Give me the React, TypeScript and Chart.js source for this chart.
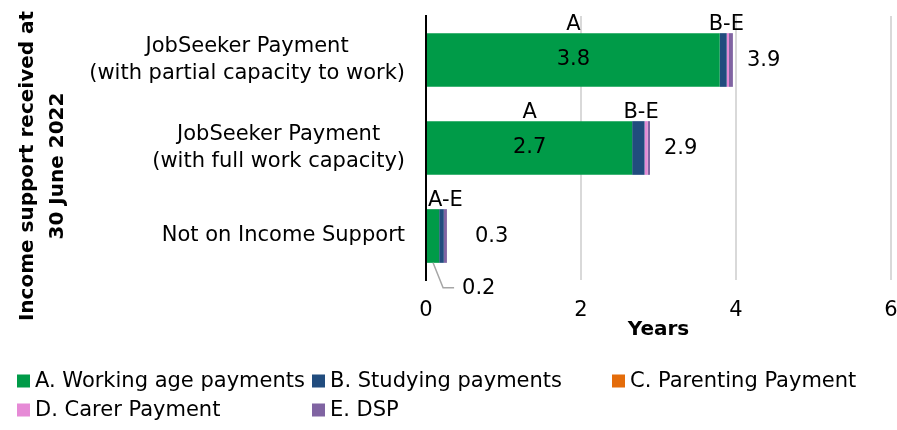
import React, { useEffect, useRef } from "react";
import { Chart, registerables } from "chart.js";

Chart.register(...registerables);

// ---------- data ----------
const categories: (string | string[])[] = [
  ["JobSeeker Payment", "(with partial capacity to work)"],
  ["JobSeeker Payment", "(with full work capacity)"],
  "Not on Income Support",
];
const seriesNames = [
  "A. Working age payments",
  "B. Studying payments",
  "C. Parenting Payment",
  "D. Carer Payment",
  "E. DSP",
];
const workingAge = [3.79, 2.66, 0.17];
const studying = [0.09, 0.16, 0.06];
const parenting = [0, 0, 0];
const carer = [0.03, 0.04, 0];
const dsp = [0.05, 0.03, 0.04];
const segmentLabels = ["3.8", "2.7", "0.2"];
const totalLabels = ["3.9", "2.9", "0.3"];
const groupLabels = [["A", "B-E"], ["A", "B-E"], ["A-E"]];
const xTicks = [0, 2, 4, 6];
const yTitle = ["Income support received at", "30 June 2022"];
const xTitle = "Years";

const seriesColors = ["#009B48", "#214C7E", "#E46C0A", "#E68AD6", "#8064A2"];
const FONT = "DejaVu Sans";

const annotations = {
  id: "annotations",
  afterDatasetsDraw(chart: any) {
    const ctx = chart.ctx as CanvasRenderingContext2D;
    const metas = chart.data.datasets.map((_: any, i: number) => chart.getDatasetMeta(i));
    const gaps = [14, 14, 28];
    ctx.save();
    ctx.fillStyle = "#000";
    ctx.font = `21px "${FONT}"`;
    categories.forEach((_, i) => {
      const a = metas[0].data[i];
      const b = metas[1].data[i];
      const last = metas[metas.length - 1].data[i];
      const top = a.y - a.height / 2;
      const bottom = a.y + a.height / 2;
      const start = a.base;
      const aEnd = a.x;
      const end = last.x;
      // group labels above bar
      ctx.textBaseline = "alphabetic";
      const g = groupLabels[i];
      if (g.length === 2) {
        ctx.textAlign = "center";
        ctx.fillText(g[0], (start + aEnd) / 2, top - 3);
        ctx.fillText(g[1], (b.base + end) / 2, top - 3);
      } else {
        ctx.textAlign = "left";
        ctx.fillText(g[0], start + 1, top - 3);
      }
      // segment value of A
      ctx.textBaseline = "middle";
      const cx = (start + aEnd) / 2;
      if (aEnd - start > 50) {
        ctx.textAlign = "center";
        ctx.fillText(segmentLabels[i], cx, a.y);
      } else {
        ctx.strokeStyle = "#A6A6A6";
        ctx.lineWidth = 1.5;
        ctx.beginPath();
        ctx.moveTo(cx, bottom);
        ctx.lineTo(cx + 10, bottom + 25);
        ctx.lineTo(cx + 21, bottom + 25);
        ctx.stroke();
        ctx.textAlign = "left";
        ctx.fillText(segmentLabels[i], cx + 29, bottom + 26);
      }
      // totals
      ctx.textAlign = "left";
      ctx.fillText(totalLabels[i], end + gaps[i], a.y + 1);
    });
    ctx.restore();
  },
  afterDraw(chart: any) {
    const ctx = chart.ctx as CanvasRenderingContext2D;
    ctx.save();
    ctx.fillStyle = "#000";
    // category labels: block right-aligned, lines centred within block
    const yScale = chart.scales.y;
    const rightEdge = chart.chartArea.left - 21;
    const lineGap = 27;
    ctx.font = `21px "${FONT}"`;
    ctx.textAlign = "center";
    ctx.textBaseline = "middle";
    categories.forEach((cat, i) => {
      const lines = Array.isArray(cat) ? cat : [cat];
      const w = Math.max(...lines.map((l) => ctx.measureText(l).width));
      const cxl = rightEdge - w / 2;
      const yc = yScale.getPixelForTick(i);
      lines.forEach((l, k) => {
        ctx.fillText(l, cxl, yc + (k - (lines.length - 1) / 2) * lineGap);
      });
    });
    // y-axis title (two lines, rotated)
    ctx.font = `bold 20px "${FONT}"`;
    ctx.textAlign = "center";
    ctx.textBaseline = "alphabetic";
    const baselines = [33, 63];
    yTitle.forEach((line, k) => {
      ctx.save();
      ctx.translate(baselines[k], 166);
      ctx.rotate(-Math.PI / 2);
      ctx.fillText(line, 0, 0);
      ctx.restore();
    });
    // legend
    const cols = [17, 312, 612];
    const rows = [381, 410];
    ctx.font = `21px "${FONT}"`;
    ctx.textAlign = "left";
    ctx.textBaseline = "middle";
    chart.data.datasets.forEach((ds: any, i: number) => {
      const col = i % 3;
      const row = Math.floor(i / 3);
      const x = cols[col];
      const y = rows[row];
      ctx.fillStyle = ds.backgroundColor;
      ctx.fillRect(x, y - 6.5, 13, 13);
      ctx.fillStyle = "#000";
      ctx.fillText(ds.label, x + 18, y + 1);
    });
    ctx.restore();
  },
};

const zeroPad = (s: any) => {
  s.paddingTop = 0;
  s.paddingBottom = 0;
  s.paddingLeft = 0;
  s.paddingRight = 0;
};

export default function App() {
  const canvasRef = useRef<HTMLCanvasElement | null>(null);

  useEffect(() => {
    document.body.style.margin = "0";
    const canvas = canvasRef.current;
    if (!canvas) return;
    const values = [workingAge, studying, parenting, carer, dsp];
    const chart = new Chart(canvas, {
      type: "bar",
      data: {
        labels: categories as any,
        datasets: values.map((v, i) => ({
          label: seriesNames[i],
          data: v,
          backgroundColor: seriesColors[i],
          borderWidth: 0,
          barPercentage: 0.61,
          categoryPercentage: 1,
        })),
      },
      options: {
        indexAxis: "y",
        responsive: false,
        animation: false,
        devicePixelRatio: 1,
        layout: { padding: { top: 16, bottom: 88, left: 0, right: 6 } },
        plugins: {
          legend: { display: false },
          tooltip: { enabled: false },
        },
        scales: {
          x: {
            type: "linear",
            stacked: true,
            min: 0,
            max: 6,
            afterBuildTicks: (s: any) => {
              s.ticks = xTicks.map((v) => ({ value: v }));
            },
            ticks: {
              color: "#000",
              padding: 17,
              font: { family: FONT, size: 21, lineHeight: 1.25 },
            },
            grid: {
              color: (c: any) => (c.tick && c.tick.value === 0 ? "rgba(0,0,0,0)" : "#D9D9D9"),
              lineWidth: 2,
              drawTicks: false,
            },
            border: { display: false },
            title: {
              display: true,
              text: xTitle,
              color: "#000",
              padding: 0,
              font: { family: FONT, size: 20, weight: "bold", lineHeight: 1.2 },
            },
            afterFit: (s: any) => {
              s.height = 62;
              zeroPad(s);
            },
          },
          y: {
            stacked: true,
            grid: { display: false, drawTicks: false },
            border: { display: true, color: "#000", width: 2 },
            ticks: {
              display: false,
              font: { family: FONT, size: 21, lineHeight: 1.25 },
            },
            afterFit: (s: any) => {
              s.width = 426;
              zeroPad(s);
            },
          },
        },
      } as any,
      plugins: [annotations],
    });
    return () => chart.destroy();
  }, []);

  return (
    <div style={{ position: "absolute", left: 0, top: 0, width: 897, height: 430 }}>
      <canvas ref={canvasRef} width={897} height={430} style={{ display: "block" }} />
    </div>
  );
}
